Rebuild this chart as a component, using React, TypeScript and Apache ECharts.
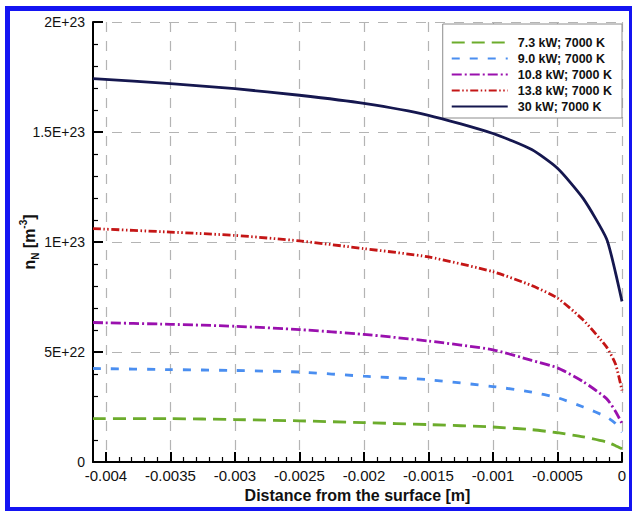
import { useEffect, useRef } from "react";
import * as echarts from "echarts";

// Distance from the surface [m] (shared sampling for all profiles)
const distance = [
  -0.0041, -0.0035, -0.003, -0.0025, -0.002, -0.0015, -0.001, -0.0007, -0.0005, -0.0003, -0.00012,
  -0.00005, 0,
];

// Atomic nitrogen number density n_N [m^-3]
const n7_3kW = [
  1.97e22, 1.97e22, 1.93e22, 1.87e22, 1.79e22, 1.7e22, 1.59e22, 1.47e22, 1.33e22, 1.14e22, 0.91e22,
  0.74e22, 0.6e22,
];
const n9_0kW = [
  4.25e22, 4.2e22, 4.16e22, 4.09e22, 3.9e22, 3.74e22, 3.43e22, 3.18e22, 2.92e22, 2.5e22, 2.05e22,
  1.75e22, 1.36e22,
];
const n10_8kW = [
  6.34e22, 6.26e22, 6.17e22, 6.02e22, 5.8e22, 5.5e22, 5.1e22, 4.62e22, 4.28e22, 3.65e22, 2.88e22,
  2.3e22, 1.75e22,
];
const n13_8kW = [
  10.61e22, 10.45e22, 10.3e22, 10.05e22, 9.7e22, 9.32e22, 8.65e22, 8.02e22, 7.45e22, 6.45e22, 5.23e22,
  4.45e22, 3.25e22,
];
const n30kW = [
  17.43e22, 17.2e22, 16.97e22, 16.67e22, 16.3e22, 15.76e22, 14.93e22, 14.2e22, 13.35e22, 11.97e22,
  10.15e22, 8.6e22, 7.3e22,
];

const seriesNames = [
  "7.3 kW; 7000 K",
  "9.0 kW; 7000 K",
  "10.8 kW; 7000 K",
  "13.8 kW; 7000 K",
  "30 kW; 7000 K",
];
const seriesValues = [n7_3kW, n9_0kW, n10_8kW, n13_8kW, n30kW];

const xTicks = [-0.004, -0.0035, -0.003, -0.0025, -0.002, -0.0015, -0.001, -0.0005, 0];
const xTickLabels = ["-0.004", "-0.0035", "-0.003", "-0.0025", "-0.002", "-0.0015", "-0.001", "-0.0005", "0"];
const yTicks = [0, 5e22, 1e23, 1.5e23, 2e23];
const yTickLabels = ["0", "5E+22", "1E+23", "1.5E+23", "2E+23"];

const lineStyles = [
  { color: "#6cac2c", type: [13, 7] },
  { color: "#4a8ef0", type: [8, 10] },
  { color: "#9a10ae", type: [10, 3, 2, 3] },
  { color: "#c41616", type: [8, 2.5, 1.5, 2.5, 1.5, 2.5] },
  { color: "#15174f", type: "solid" },
];

const FONT = "'Liberation Sans', Arial, Helvetica, sans-serif";

function labelFor(value: number, ticks: number[], labels: string[]) {
  const span = Math.abs(ticks[ticks.length - 1] - ticks[0]) || 1;
  for (let i = 0; i < ticks.length; i++) {
    if (Math.abs(value - ticks[i]) < span * 1e-6) return labels[i];
  }
  return "";
}

export default function App() {
  const ref = useRef<HTMLDivElement>(null);

  useEffect(() => {
    if (!ref.current) return;
    const chart = echarts.init(ref.current, undefined, { renderer: "svg" });

    const series = seriesNames.map((name, i) => ({
      name,
      type: "line",
      data: distance.map((x, j) => [x, seriesValues[i][j]]),
      symbol: "none",
      showSymbol: false,
      smooth: 0.2,
      lineStyle: { color: lineStyles[i].color, width: 2.8, type: lineStyles[i].type, cap: "butt" },
      itemStyle: { color: lineStyles[i].color },
      z: 3 + i,
    }));

    chart.setOption({
      animation: false,
      backgroundColor: "#ffffff",
      textStyle: { fontFamily: FONT },
      grid: {
        left: 93,
        right: 10,
        top: 22,
        bottom: 49,
        containLabel: false,
        outerBoundsMode: "none",
      },
      xAxis: {
        type: "value",
        min: -0.0041,
        max: 0,
        minInterval: 0.0005,
        maxInterval: 0.0005,
        name: "Distance from the surface [m]",
        nameLocation: "middle",
        nameGap: 24,
        nameTextStyle: { fontFamily: FONT, fontSize: 16, fontWeight: "bold", color: "#111" },
        axisLine: { show: true, onZero: false, lineStyle: { color: "#000", width: 2 } },
        axisTick: {
          show: true,
          inside: true,
          length: 10,
          customValues: xTicks,
          lineStyle: { color: "#000", width: 2 },
        },
        minorTick: { show: true, splitNumber: 5, length: 5, lineStyle: { color: "#000", width: 1.2 } },
        axisLabel: {
          customValues: xTicks,
          showMinLabel: true,
          margin: 6,
          fontFamily: FONT,
          fontSize: 15,
          color: "#111",
          formatter: (v: number) => labelFor(v, xTicks, xTickLabels),
        },
        splitLine: {
          show: true,
          lineStyle: { color: "#b4b4b4", width: 1.2, type: [10, 9] },
        },
      },
      yAxis: {
        type: "value",
        min: 0,
        max: 2e23,
        interval: 5e22,
        axisLine: { show: true, onZero: false, lineStyle: { color: "#000", width: 2 } },
        axisTick: { show: true, inside: true, length: 10, lineStyle: { color: "#000", width: 2 } },
        minorTick: { show: true, splitNumber: 5, length: 5, lineStyle: { color: "#000", width: 1.2 } },
        axisLabel: {
          margin: 8,
          fontFamily: FONT,
          fontSize: 14,
          color: "#111",
          formatter: (v: number) => labelFor(v, yTicks, yTickLabels),
        },
        splitLine: {
          show: true,
          lineStyle: { color: "#b4b4b4", width: 1.2, type: [10, 9] },
        },
      },
      legend: {
        show: true,
        orient: "vertical",
        right: 10,
        top: 24,
        data: seriesNames,
        itemWidth: 56,
        itemHeight: 12,
        itemGap: 3,
        padding: [12, 10, 5, 8],
        backgroundColor: "#ffffff",
        borderColor: "#8c8c8c",
        borderWidth: 1,
        borderRadius: 0,
        selectedMode: false,
        itemStyle: { opacity: 0, borderWidth: 0 },
        textStyle: {
          fontFamily: FONT,
          fontSize: 12.5,
          fontWeight: "bold",
          color: "#111",
          lineHeight: 12,
          padding: [0, 0, 0, 5],
        },
      },
      graphic: [
        {
          type: "text",
          x: 29,
          y: 242,
          rotation: Math.PI / 2,
          z: 10,
          style: {
            text: "n{sub|N} [m{sup|-3}]",
            fontFamily: FONT,
            fontSize: 16,
            fontWeight: "bold",
            fill: "#111",
            align: "center",
            verticalAlign: "middle",
            lineHeight: 22,
            rich: {
              sub: { fontFamily: FONT, fontSize: 10, fontWeight: "bold", fill: "#111", verticalAlign: "bottom", lineHeight: 12 },
              sup: { fontFamily: FONT, fontSize: 10, fontWeight: "bold", fill: "#111", verticalAlign: "top", lineHeight: 12 },
            },
          },
        },
        {
          type: "rect",
          z: 20,
          silent: true,
          shape: { x: 7.5, y: 8.5, width: 624, height: 501 },
          style: { fill: "none", stroke: "#1414f2", lineWidth: 5 },
        },
      ],
      series,
    });

    return () => chart.dispose();
  }, []);

  return (
    <div
      ref={ref}
      style={{ position: "absolute", left: 0, top: 0, width: 632, height: 511, background: "#fff" }}
    />
  );
}
